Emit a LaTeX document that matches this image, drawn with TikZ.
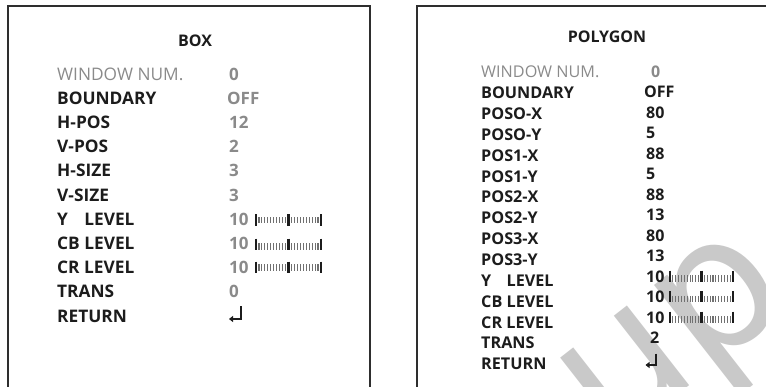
\documentclass[tikz,border=0pt]{standalone}
\usepackage{fontspec}
\setmainfont{Open Sans}
\newfontfamily\wmfont{DejaVu Sans}
\usetikzlibrary{arrows.meta}
\definecolor{lbl}{HTML}{1C1C1C}
\definecolor{val}{HTML}{8A8A8A}
\definecolor{wmc}{HTML}{C9C9C9}
\definecolor{framec}{HTML}{2E2E2E}
\definecolor{tickc}{HTML}{707070}
\tikzset{
  framebox/.style={draw=framec, line width=2pt},
  labL/.style={anchor=base west, inner sep=0pt, text=lbl, font=\fontsize{17.3}{20}\selectfont\bfseries},
  dimL/.style={anchor=base west, inner sep=0pt, text=val, font=\fontsize{17.3}{20}\selectfont},
  valL/.style={anchor=base west, inner sep=0pt, text=val, font=\fontsize{17}{20}\selectfont\bfseries},
  labR/.style={anchor=base west, inner sep=0pt, text=lbl, font=\fontsize{16.2}{19}\selectfont\bfseries},
  dimR/.style={anchor=base west, inner sep=0pt, text=val, font=\fontsize{16.2}{19}\selectfont},
  valR/.style={anchor=base west, inner sep=0pt, text=lbl, font=\fontsize{16}{19}\selectfont\bfseries},
  titletext/.style={anchor=base, inner sep=0pt, text=lbl, font=\fontsize{16}{19}\selectfont\bfseries},
  smalltick/.style={draw=tickc, line width=1.1pt},
  bigtick/.style={draw=lbl, line width=2.6pt},
  retline/.style={draw=lbl, line width=2pt, -{Triangle[length=4pt,width=6pt]}},
  wmtext/.style={text=wmc, inner sep=0pt, anchor=base west, font=\wmfont\fontsize{185}{185}\selectfont}
}
% #1 x0, #2 length, #3 y centre, #4 mode (0 centred, 1 bottom aligned)
\newcommand\mkslider[4]{%
  \begin{scope}[shift={(#1,#3)}]
    \ifnum#4=0
      \foreach \k in {1,...,21} \draw[smalltick] ({\k*#2/22},-3.2) -- ({\k*#2/22},3.2);
      \foreach \k in {0,11,22} \draw[bigtick] ({\k*#2/22},-5.8) -- ({\k*#2/22},5.8);
    \else
      \foreach \k in {1,...,21} \draw[smalltick] ({\k*#2/22},-1.6) -- ({\k*#2/22},4.5);
      \foreach \k in {0,11,22} \draw[bigtick] ({\k*#2/22},-6.3) -- ({\k*#2/22},4.5);
    \fi
  \end{scope}}
\newcommand\ylevel{\rlap{Y}\phantom{CB} LEVEL}
\begin{document}
\begin{tikzpicture}[x=1pt,y=-1pt]
\useasboundingbox (0,0) rectangle (766,386);
% watermark
\begin{scope}
  \clip (0,0) rectangle (766,386);
  \node[wmtext, rotate=38] (wm) at (351.7,649.9) {Group};
\end{scope}
% frames
\draw[framebox] (8,392) -- (8,6) -- (370,6) -- (370,392);
\draw[framebox] (417,392) -- (417,6) -- (772,6);
% ---------- BOX panel ----------
\node[titletext] (tbox) at (195,46.7) {BOX};
\node[dimL] (l0) at (57,80) {WINDOW NUM.};
\node[labL] (l1) at (57,104.2) {BOUNDARY};
\node[labL] (l2) at (57,128.4) {H-POS};
\node[labL] (l3) at (57,152.6) {V-POS};
\node[labL] (l4) at (57,176.8) {H-SIZE};
\node[labL] (l5) at (57,201) {V-SIZE};
\node[labL] (l6) at (57,225.2) {\ylevel};
\node[labL] (l7) at (57,249.4) {CB LEVEL};
\node[labL] (l8) at (57,273.6) {CR LEVEL};
\node[labL] (l9) at (57,297.8) {TRANS};
\node[labL] (l10) at (57,322) {RETURN};
\node[valL] (v0) at (229,80) {0};
\node[valL] (v1) at (227,104.2) {OFF};
\node[valL] (v2) at (229,128.4) {12};
\node[valL] (v3) at (229,152.6) {2};
\node[valL] (v4) at (229,176.8) {3};
\node[valL] (v5) at (229,201) {3};
\node[valL] (v6) at (229,225.2) {10};
\node[valL] (v7) at (229,249.4) {10};
\node[valL] (v8) at (229,273.6) {10};
\node[valL] (v9) at (229,297.8) {0};
\mkslider{256}{65}{220.2}{0}
\mkslider{256}{65}{245}{1}
\mkslider{256}{65}{267.3}{0}
\coordinate (retL) at (240.5,306);
\draw[retline] (retL) -- ++(0,13) -- ++(-11.5,0);
% ---------- POLYGON panel ----------
\node[titletext] (tpoly) at (607,42.2) {POLYGON};
\node[dimR] (r0) at (481,77.7) {WINDOW NUM.};
\node[labR] (r1) at (481,98.6) {BOUNDARY};
\node[labR] (r2) at (481,119.4) {POSO-X};
\node[labR] (r3) at (481,140.3) {POSO-Y};
\node[labR] (r4) at (481,161.1) {POS1-X};
\node[labR] (r5) at (481,182) {POS1-Y};
\node[labR] (r6) at (481,202.9) {POS2-X};
\node[labR] (r7) at (481,223.7) {POS2-Y};
\node[labR] (r8) at (481,244.6) {POS3-X};
\node[labR] (r9) at (481,265.4) {POS3-Y};
\node[labR] (r10) at (481,286.3) {\ylevel};
\node[labR] (r11) at (481,307.2) {CB LEVEL};
\node[labR] (r12) at (481,328) {CR LEVEL};
\node[labR] (r13) at (481,348.9) {TRANS};
\node[labR] (r14) at (481,369.7) {RETURN};
\node[dimR, font=\fontsize{16}{19}\selectfont\bfseries] (s0) at (651,77.4) {0};
\node[valR] (s1) at (644,97.9) {OFF};
\node[valR] (s2) at (646,118.4) {80};
\node[valR] (s3) at (646,138.8) {5};
\node[valR] (s4) at (646,159.3) {88};
\node[valR] (s5) at (646,179.8) {5};
\node[valR] (s6) at (646,200.3) {88};
\node[valR] (s7) at (646,220.8) {13};
\node[valR] (s8) at (646,241.2) {80};
\node[valR] (s9) at (646,261.7) {13};
\node[valR] (s10) at (646,282.2) {10};
\node[valR] (s11) at (646,302.7) {10};
\node[valR] (s12) at (646,323.2) {10};
\node[valR] (s13) at (650,343.7) {2};
\mkslider{670}{63}{277}{1}
\mkslider{670}{63}{297.5}{1}
\mkslider{670}{63}{318}{1}
\coordinate (retR) at (655.5,353.5);
\draw[retline] (retR) -- ++(0,11.5) -- ++(-10,0);
\end{tikzpicture}
\end{document}
